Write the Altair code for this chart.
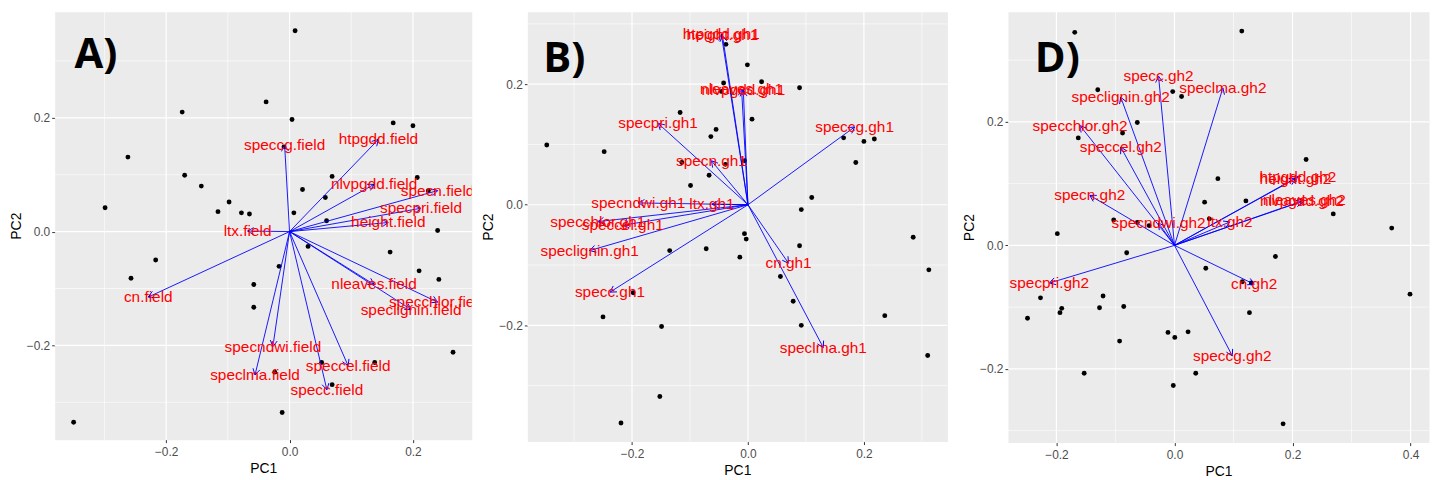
import math
import altair as alt
import pandas as pd

# ---------------- Panel A (field) ----------------
A_pc1 = [0.009, -0.038, -0.174, 0.004, 0.168, 0.200, -0.262, -0.009, -0.170, 0.069,
         0.207, -0.143, 0.021, 0.225, 0.058, -0.299, -0.098, -0.116, -0.078, -0.065,
         0.007, 0.060, 0.240, 0.030, 0.163, -0.217, -0.017, 0.210, -0.257, 0.242,
         -0.058, -0.058, 0.265, 0.052, 0.138, -0.024, 0.069, -0.012, -0.350]
A_pc2 = [0.353, 0.228, 0.210, 0.197, 0.191, 0.186, 0.131, 0.149, 0.099, 0.097,
         0.095, 0.080, 0.074, 0.072, 0.060, 0.042, 0.052, 0.035, 0.033, 0.031,
         0.033, 0.019, 0.002, -0.026, -0.036, -0.050, -0.061, -0.069, -0.082, -0.084,
         -0.093, -0.133, -0.212, -0.230, -0.230, -0.247, -0.269, -0.318, -0.335]
A_names = ["speccg.field", "htpgdd.field", "nlvpgdd.field", "specn.field", "specpri.field",
           "height.field", "ltx.field", "cn.field", "nleaves.field", "specchlor.field",
           "speclignin.field", "specndwi.field", "speclma.field", "speccel.field", "specc.field"]
A_load1 = [-0.008, 0.144, 0.137, 0.240, 0.213, 0.160, -0.068, -0.229, 0.137, 0.240,
           0.197, -0.027, -0.056, 0.095, 0.0605]
A_load2 = [0.152, 0.162, 0.083, 0.072, 0.041, 0.016, 0.001, -0.115, -0.093, -0.124,
           -0.137, -0.202, -0.252, -0.236, -0.278]

# ---------------- Panel B (gh1) ----------------
B_pc1 = [-0.038, -0.001, -0.042, -0.046, 0.0235, 0.089, -0.117, 0.007, -0.055, -0.064,
         -0.347, 0.165, 0.200, 0.218, -0.248, 0.186, -0.114, -0.039, -0.006, -0.067,
         -0.099, 0.110, 0.092, 0.285, -0.006, -0.003, -0.135, -0.072, 0.089, -0.014,
         0.312, 0.056, -0.198, 0.078, -0.250, 0.236, -0.149, 0.092, 0.310, -0.152, -0.219]
B_pc2 = [0.266, 0.232, 0.202, 0.188, 0.204, 0.194, 0.153, 0.142, 0.125, 0.113,
         0.099, 0.111, 0.105, 0.109, 0.088, 0.070, 0.070, 0.067, 0.073, 0.049,
         0.032, 0.012, -0.008, -0.054, -0.048, -0.057, -0.076, -0.073, -0.068, -0.087,
         -0.108, -0.119, -0.146, -0.160, -0.186, -0.184, -0.202, -0.200, -0.250, -0.318, -0.362]
B_names = ["htpgdd.gh1", "height.gh1", "nleaves.gh1", "nlvpgdd.gh1", "specpri.gh1",
           "speccg.gh1", "specn.gh1", "ltx.gh1", "specndwi.gh1", "specchlor.gh1",
           "speccel.gh1", "speclignin.gh1", "specc.gh1", "cn.gh1", "speclma.gh1"]
B_load1 = [-0.046, -0.044, -0.011, -0.008, -0.155, 0.184, -0.063, -0.062, -0.189, -0.259,
           -0.216, -0.273, -0.238, 0.070, 0.130]
B_load2 = [0.283, 0.281, 0.192, 0.190, 0.135, 0.129, 0.073, 0.001, 0.003, -0.028,
           -0.034, -0.076, -0.145, -0.097, -0.237]

# ---------------- Panel D (gh2) ----------------
D_pc1 = [-0.169, 0.114, -0.130, -0.003, 0.012, -0.063, -0.088, -0.163, 0.223, 0.0735,
         0.051, 0.121, 0.269, -0.103, -0.063, -0.043, 0.059, 0.368, -0.1985, -0.081,
         0.171, 0.053, 0.115, 0.130, 0.399, -0.227, -0.121, -0.127, -0.086, -0.191,
         -0.194, 0.127, -0.249, -0.011, 0.023, 0.0005, -0.093, -0.153, 0.036, -0.002, 0.184]
D_pc2 = [0.345, 0.347, 0.252, 0.249, 0.241, 0.199, 0.182, 0.174, 0.139, 0.108,
         0.070, 0.072, 0.051, 0.041, 0.037, 0.032, 0.043, 0.028, 0.019, -0.012,
         -0.018, -0.037, -0.059, -0.061, -0.079, -0.085, -0.082, -0.101, -0.099, -0.102,
         -0.109, -0.109, -0.118, -0.141, -0.140, -0.149, -0.155, -0.207, -0.207, -0.227, -0.289]
D_names = ["specc.gh2", "speclma.gh2", "speclignin.gh2", "specchlor.gh2", "speccel.gh2",
           "htpgdd.gh2", "height.gh2", "nleaves.gh2", "nlvpgdd.gh2", "specn.gh2",
           "specndwi.gh2", "ltx.gh2", "specpri.gh2", "cn.gh2", "speccg.gh2"]
D_load1 = [-0.027, 0.082, -0.091, -0.160, -0.091, 0.209, 0.205, 0.220, 0.216, -0.1435,
           -0.027, 0.094, -0.212, 0.135, 0.098]
D_load2 = [0.274, 0.255, 0.240, 0.194, 0.159, 0.111, 0.108, 0.073, 0.071, 0.081,
           0.036, 0.038, -0.061, -0.063, -0.179]

ARROW_PATH = "M-1,-0.577L0,0L-1,0.577"


def panel(pc1, pc2, names, l1, l2, xdom, ydom, xmaj, xmin, ymaj, ymin, w, h,
          letter, lx, ly):
    pts = pd.DataFrame({"PC1": pc1, "PC2": pc2})
    sx = w / (xdom[1] - xdom[0])
    sy = h / (ydom[1] - ydom[0])
    ang = [math.degrees(math.atan2(-b * sy, a * sx)) % 360 for a, b in zip(l1, l2)]
    load = pd.DataFrame({"name": names, "x": l1, "y": l2, "ox": 0.0, "oy": 0.0, "ang": ang})
    xs = alt.Scale(domain=xdom, nice=False, zero=False)
    ys = alt.Scale(domain=ydom, nice=False, zero=False)
    xax = alt.Axis(values=xmaj, format=".1f", title="PC1")
    yax = alt.Axis(values=ymaj, format=".1f", title="PC2")

    def X(f):
        return alt.X(f, scale=xs, axis=xax, title="PC1")

    def Y(f):
        return alt.Y(f, scale=ys, axis=yax, title="PC2")

    points = alt.Chart(pts).mark_circle(color="black", size=24, opacity=1).encode(
        x=X("PC1:Q"), y=Y("PC2:Q"))
    vmin = alt.Chart(pd.DataFrame({"v": xmin})).mark_rule(color="white", strokeWidth=0.6).encode(
        x=X("v:Q"))
    hmin = alt.Chart(pd.DataFrame({"v": ymin})).mark_rule(color="white", strokeWidth=0.6).encode(
        y=Y("v:Q"))
    vmaj = alt.Chart(pd.DataFrame({"v": xmaj})).mark_rule(color="white", strokeWidth=1.2).encode(
        x=X("v:Q"))
    hmaj = alt.Chart(pd.DataFrame({"v": ymaj})).mark_rule(color="white", strokeWidth=1.2).encode(
        y=Y("v:Q"))
    arrows = alt.Chart(load).mark_rule(color="#0000FF", strokeWidth=0.9).encode(
        x=X("ox:Q"), y=Y("oy:Q"), x2="x:Q", y2="y:Q")
    heads = alt.Chart(load).mark_point(shape=ARROW_PATH, filled=False, color="#0000FF",
                                       size=150, strokeWidth=0.9, opacity=1).encode(
        x=X("x:Q"), y=Y("y:Q"),
        angle=alt.Angle("ang:Q", scale=None))
    labels = alt.Chart(load).mark_text(color="#FF0000", fontSize=15.5, font="Liberation Sans",
                                       align="center", baseline="middle", clip=True).encode(
        x=X("x:Q"), y=Y("y:Q"), text="name:N")
    tag = alt.Chart(pd.DataFrame({"t": [letter]})).mark_text(
        align="left", baseline="alphabetic", fontSize=42, font="Open Sans",
        fontWeight="bold", color="black").encode(
        x=alt.value(lx), y=alt.value(ly), text="t:N")

    return alt.layer(vmin, hmin, vmaj, hmaj, points, arrows, heads, labels, tag).properties(
        width=w, height=h)


pA = panel(A_pc1, A_pc2, A_names, A_load1, A_load2,
           [-0.3807, 0.2953], [-0.3656, 0.3866],
           [-0.2, 0.0, 0.2], [-0.3, -0.1, 0.1], [-0.2, 0.0, 0.2], [-0.3, -0.1, 0.1, 0.3],
           420, 431, "A)", 20, 57)
pB = panel(B_pc1, B_pc2, B_names, B_load1, B_load2,
           [-0.3805, 0.344], [-0.3929, 0.3203],
           [-0.2, 0.0, 0.2], [-0.3, -0.1, 0.1, 0.3], [-0.2, 0.0, 0.2], [-0.3, -0.1, 0.1, 0.3],
           423, 433, "B)", 16, 61)
pD = panel(D_pc1, D_pc2, D_names, D_load1, D_load2,
           [-0.2821, 0.4312], [-0.3194, 0.3785],
           [-0.2, 0.0, 0.2, 0.4], [-0.1, 0.1, 0.3], [-0.2, 0.0, 0.2], [-0.3, -0.1, 0.1, 0.3],
           424, 434, "D)", 27, 61)

chart = alt.hconcat(alt.hconcat(pA, pB, spacing=7), pD, spacing=12).properties(
    padding={"left": 0, "top": 0, "right": 0, "bottom": 0}
).configure_view(fill="#EBEBEB", stroke="transparent").configure_axis(
    labelFont="Liberation Sans", labelFontSize=12, labelColor="#4D4D4D",
    titleFont="Liberation Sans", titleFontSize=14, titleFontWeight="normal",
    titleColor="black", tickColor="#333333", tickSize=3, tickWidth=1,
    domain=False, grid=False
).configure_axisX(labelPadding=4, titlePadding=4).configure_axisY(labelPadding=2, titlePadding=3)

chart.save("out.html", embed_options={"renderer": "svg", "actions": False})
